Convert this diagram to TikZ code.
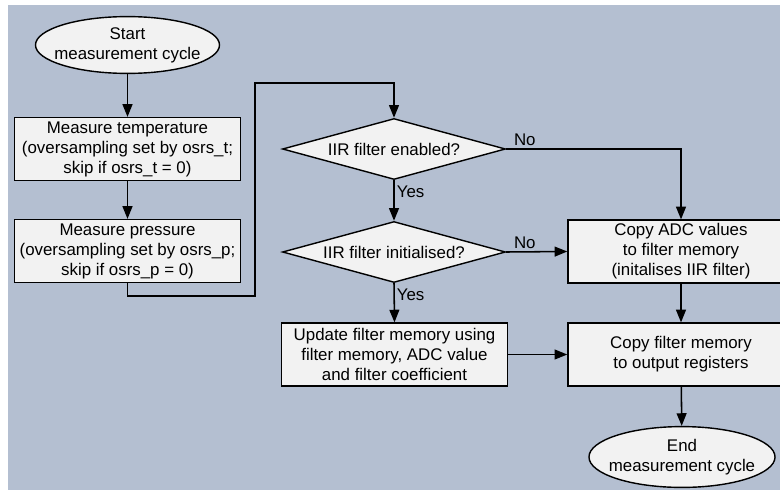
\documentclass[tikz,border=0pt]{standalone}
\usepackage{fontspec}
\setmainfont{Liberation Sans}
\usepackage{tikz}
\usetikzlibrary{shapes.geometric, arrows.meta}
\definecolor{bgblue}{HTML}{B4BFD1}
\definecolor{boxgrey}{HTML}{F2F2F2}

\begin{document}
\begin{tikzpicture}[x=0.025cm, y=-0.025cm,
  font=\fontsize{12}{14.2}\selectfont,
  every node/.style={align=center},
  proc/.style={draw, fill=boxgrey, line width=1pt, minimum width=5.65cm, minimum height=1.57cm, inner sep=0pt},
  term/.style={draw, ellipse, fill=boxgrey, line width=1pt, minimum width=4.6cm, minimum height=1.42cm, inner xsep=-6pt, inner ysep=0pt},
  decide/.style={draw, diamond, aspect=3.66, fill=boxgrey, line width=1pt, minimum width=5.575cm, minimum height=1.525cm, inner sep=0pt},
  flow/.style={line width=1.1pt, -{Triangle[length=9pt, width=7pt]}},
  lbl/.style={inner sep=1.5pt}]
\useasboundingbox (0,0) rectangle (780,493);
\clip (0,0) rectangle (780,493);
\fill[white] (0,0) rectangle (780,493);
\fill[bgblue] (8,5) rectangle (780,490);

% left column
\node[term] (start) at (127.5,45) {Start\\measurement cycle};
\node[proc] (temp) at (127.5,149) {Measure temperature\\(oversampling set by osrs\_t;\\skip if osrs\_t = 0)};
\node[proc] (press) at (127.5,251) {Measure pressure\\(oversampling set by osrs\_p;\\skip if osrs\_p = 0)};

% middle column
\node[decide] (iiren) at (394,149) {IIR filter enabled?};
\node[decide] (iirinit) at (394,252) {IIR filter initialised?};
\node[proc] (update) at (394.5,354.5) {Update filter memory using\\filter memory, ADC value\\and filter coefficient};

% right column
\node[proc] (copyadc) at (681,251.5) {Copy ADC values\\to filter memory\\(initalises IIR filter)};
\node[proc] (copyout) at (681,354.5) {Copy filter memory\\to output registers};
\node[term, minimum width=4.65cm, minimum height=1.52cm] (end) at (682,457) {End\\measurement cycle};

\coordinate (loopb) at (255,296);
\coordinate (loopt) at (255,83);

\draw[flow] (start) -- (temp);
\draw[flow] (temp) -- (press);
\draw[flow] (press.south) |- (loopb) -- (loopt) -| (iiren.north);
\draw[flow] (iiren.south) -- node[pos=0, anchor=north west, lbl, yshift=-2pt] {Yes} (iirinit.north);
\draw[flow] (iiren.east) -| node[pos=0, anchor=south west, lbl, xshift=3.5pt] {No} (copyadc.north);
\draw[flow] (iirinit.east) -- node[pos=0, anchor=south west, lbl, xshift=3.5pt] {No} (copyadc.west);
\draw[flow] (iirinit.south) -- node[pos=0, anchor=north west, lbl, yshift=-2pt] {Yes} (update.north);
\draw[flow] (update.east) -- (copyout.west);
\draw[flow] (copyadc) -- (copyout);
\draw[flow] (copyout) -- (end);
\end{tikzpicture}
\end{document}
